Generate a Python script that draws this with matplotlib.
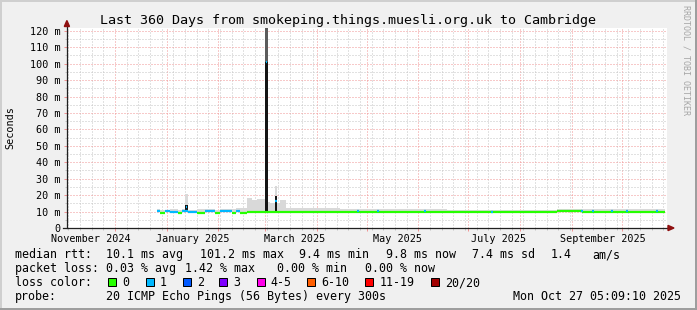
import numpy as np
import pandas as pd
import matplotlib
matplotlib.use('Agg')
import matplotlib.pyplot as plt
import matplotlib.dates as mdates
from matplotlib.patches import Rectangle, Polygon
from matplotlib.transforms import blended_transform_factory
from matplotlib.ticker import FuncFormatter, MultipleLocator, NullFormatter

# --------------------------------------------------------------
# Data
# --------------------------------------------------------------

# runs of (nearly) constant median rtt, in ms
run_start = ['2024-12-26 05:00', '2024-12-28 00:00', '2024-12-31 00:00',
             '2025-01-03 00:00', '2025-01-07 18:00', '2025-01-10 00:00',
             '2025-01-14 00:00', '2025-01-19 12:00', '2025-01-23 18:00',
             '2025-01-29 18:00', '2025-02-01 18:00', '2025-02-09 00:00',
             '2025-02-11 12:00', '2025-02-13 18:00', '2025-02-18 12:00',
             '2025-02-21 00:00', '2025-02-24 00:00', '2025-03-01 12:00',
             '2025-03-04 00:00', '2025-03-10 00:00', '2025-03-13 12:00',
             '2025-04-15 00:00', '2025-05-05 00:00', '2025-06-18 00:00',
             '2025-07-30 00:00', '2025-08-23 12:00', '2025-09-07 12:00']
run_end = '2025-10-27 05:00'
run_median = [10.1, 9.4, 10.1, 10.0, 9.4, 10.1, 10.0, 9.4, 10.1, 9.4, 10.1, 9.4,
              10.1, 9.4, 9.7, 9.7, 9.7, 9.7, 9.7, 9.7, 9.8, 9.6, 10.0, 9.7,
              9.5, 10.1, 9.9]
run_smoke = [11.5, 11.2, 11.0, 11.4, 11.2, 11.6, 11.0, 11.3, 11.5, 11.2, 11.6,
             11.4, 12.0, 12.4, 18.2, 17.0, 17.6, 16.0, 15.5, 16.8, 12.0, 11.4,
             11.6, 11.2, 11.0, 11.5, 11.6]
run_loss = [1, 0, 1, 1, 0, 1, 1, 0, 1, 0, 1, 0, 1, 0, 0, 0, 0, 0, 0, 0, 0, 0,
            0, 0, 0, 0, 0]

# short single-loss blips on the median line
blip_dates = ['2025-04-25 18:00', '2025-05-08 00:00', '2025-06-04 18:00',
              '2025-07-15 00:00', '2025-09-07 06:00', '2025-09-14 00:00',
              '2025-09-25 00:00', '2025-10-04 00:00', '2025-10-22 00:00']
blip_median = [10.2, 10.3, 10.2, 9.8, 10.3, 10.2, 10.3, 10.3, 10.6]
blip_loss = [1, 1, 1, 1, 1, 1, 1, 1, 1]

# spikes
spike_dates = ['2025-01-13 00:00', '2025-03-02 00:00', '2025-03-07 18:00']
spike_core = [13.8, 101.2, 19.4]
spike_dark = [13.8, 130.0, 19.4]
spike_light = [20.6, 130.0, 25.6]
spike_median = [12.5, 101.2, 16.4]
spike_loss = [1, 1, 1]

loss_labels = ['0', '1', '2', '3', '4-5', '6-10', '11-19', '20/20']
loss_colors = ['#26ff00', '#00b8ff', '#0059ff', '#7e00ff', '#ff00ea',
               '#ff5e00', '#ff0000', '#a10000']

yticks_ms = list(range(0, 121, 10))
xlabel_text = ['November 2024', 'January 2025', 'March 2025', 'May 2025',
               'July 2025', 'September 2025']
xlabel_dates = ['2024-11-16 12:00', '2025-01-16 12:00', '2025-03-19 00:00',
                '2025-05-19 12:00', '2025-07-19 10:00', '2025-09-19 18:00']
x_start, x_end = '2024-11-02 05:00', '2025-10-28 05:00'

title = 'Last 360 Days from smokeping.things.muesli.org.uk to Cambridge'
rtt_stats = ['10.1 ms avg', '101.2 ms max', '9.4 ms min', '9.8 ms now',
             '7.4 ms sd', '1.4', 'am/s']
loss_stats = ['0.03 % avg', '1.42 % max', '0.00 % min', '0.00 % now']
probe_text = '20 ICMP Echo Pings (56 Bytes) every 300s'
stamp_text = 'Mon Oct 27 05:09:10 2025'

# --------------------------------------------------------------
# Layout (pixels of the 697x310 image)
# --------------------------------------------------------------
W, H = 697, 310
AX_L, AX_R, AX_T, AX_B = 67, 667, 28, 228
YMAX = 121.7
MONO = 'DejaVu Sans Mono'
GRID = '#c4c4c4'
MGRID = '#f09494'
SMOKE = '#d9d9d9'
ARROW = '#8f1010'

rtt_x = [106, 199.7, 299, 385.7, 472, 550.7, 592]
loss_x = [106, 185, 277.3, 364.7]
sq_x = [108.3, 145.7, 182.7, 219.3, 256.7, 307.3, 365.3, 430.7]
row_y = [258.3, 272, 286, 300]


def fx(px):
    return px / W


def fy(py):
    return 1 - py / H


def to_num(dates):
    return mdates.date2num(pd.to_datetime(dates).to_pydatetime())


fig = plt.figure(figsize=(W / 100, H / 100), dpi=100)
fig.patch.set_facecolor('#f0f0f0')

# shaded frame
for x0, y0, w, h, c in [(0, 0, W, 2, '#cfcfcf'), (0, 0, 2, H, '#cfcfcf'),
                        (0, H - 2, W, 2, '#9e9e9e'), (W - 2, 0, 2, H, '#9e9e9e')]:
    fig.add_artist(Rectangle((fx(x0), fy(y0 + h)), w / W, h / H,
                             transform=fig.transFigure, color=c, lw=0))

ax = fig.add_axes([fx(AX_L), fy(AX_B), (AX_R - AX_L) / W, (AX_B - AX_T) / H])
ax.set_facecolor('white')
for s in ax.spines.values():
    s.set_visible(False)

# ---------------- data ----------------
starts = to_num(run_start)
edges = np.append(starts, to_num([run_end]))
med = np.array(run_median)
smk = np.array(run_smoke)
ax.fill_between(edges, np.append(med - 0.4, med[-1] - 0.4), np.append(smk, smk[-1]),
                step='post', color=SMOKE, lw=0, zorder=2)

sp = to_num(spike_dates)
base = 10.0
ax.bar(sp, np.array(spike_light) - base, bottom=base, width=1.4, color=SMOKE,
       lw=0, zorder=2)
ax.bar(sp, np.array(spike_dark) - base, bottom=base, width=1.4, color='#5c5c5c',
       lw=0, zorder=3)
ax.bar(sp, np.array(spike_core) - base, bottom=base, width=1.4, color='#151515',
       lw=0, zorder=3)

ax.hlines(med, edges[:-1], edges[1:], colors=[loss_colors[i] for i in run_loss],
          lw=1.6, zorder=4)
bd = to_num(blip_dates)
ax.hlines(blip_median, bd - 0.6, bd + 0.6, colors=[loss_colors[i] for i in blip_loss],
          lw=1.6, zorder=5)
ax.hlines(spike_median, sp - 0.5, sp + 0.5, colors=[loss_colors[i] for i in spike_loss],
          lw=1.6, zorder=5)

# ---------------- axes ----------------
ax.set_xlim(to_num([x_start])[0], to_num([x_end])[0])
ax.set_ylim(0, YMAX)
ax.xaxis.set_major_locator(mdates.MonthLocator())
ax.xaxis.set_minor_locator(mdates.WeekdayLocator(byweekday=mdates.SU))
ax.xaxis.set_major_formatter(NullFormatter())
ax.set_yticks(yticks_ms)
ax.yaxis.set_minor_locator(MultipleLocator(5))
ax.yaxis.set_major_formatter(FuncFormatter(lambda v, p: '0' if v == 0 else f'{int(v)} m'))
ax.set_axisbelow(True)
ax.grid(which='minor', color=GRID, linestyle=(0, (1, 2)), lw=0.72)
ax.grid(which='major', color=MGRID, linestyle=(0, (1, 2)), lw=0.72)
ax.tick_params(which='major', length=2.2, width=0.72, color=MGRID)
ax.tick_params(which='minor', length=1.5, width=0.72, color=GRID)
ax.tick_params(axis='y', which='major', labelsize=7.3, pad=2.6)
for lab in ax.get_yticklabels():
    lab.set_family(MONO)

tr = blended_transform_factory(ax.transData, ax.transAxes)
for d, t in zip(to_num(xlabel_dates), xlabel_text):
    ax.text(d, -(241.7 - AX_B) / (AX_B - AX_T), t, transform=tr, ha='center',
            va='baseline', fontsize=7.3, family=MONO)


def axx(px):
    return (px - AX_L) / (AX_R - AX_L)


def axy(py):
    return (AX_B - py) / (AX_B - AX_T)


ax.plot([axx(63), axx(669)], [0, 0], color='#202020', lw=0.9, transform=ax.transAxes,
        clip_on=False, zorder=6)
ax.plot([0, 0], [0, axy(24)], color='#202020', lw=0.9, transform=ax.transAxes,
        clip_on=False, zorder=6)
ax.add_patch(Polygon([(axx(64.3), axy(26.5)), (axx(69.5), axy(26.5)), (axx(66.9), axy(20.5))],
                     closed=True, transform=ax.transAxes, color=ARROW, clip_on=False, zorder=7))
ax.add_patch(Polygon([(axx(668), axy(225.4)), (axx(668), axy(230.6)), (axx(674), axy(228))],
                     closed=True, transform=ax.transAxes, color=ARROW, clip_on=False, zorder=7))

# ---------------- texts ----------------
fig.text(fx(348), fy(24), title, ha='center', va='baseline', fontsize=9.6, family=MONO)
fig.text(fx(10.5), fy(128), 'Seconds', rotation=90, ha='center', va='center',
         fontsize=7.3, family=MONO)
fig.text(fx(686), fy(5), 'RRDTOOL / TOBI OETIKER', rotation=-90, ha='center', va='top',
         fontsize=6.0, family=MONO, color='#a6a6a6')

LS = 8.4
fig.text(fx(15), fy(row_y[0]), 'median rtt:', fontsize=LS, family=MONO, va='baseline')
for x, t in zip(rtt_x, rtt_stats):
    fig.text(fx(x), fy(row_y[0]), t, fontsize=LS, family=MONO, va='baseline')
fig.text(fx(15), fy(row_y[1]), 'packet loss:', fontsize=LS, family=MONO, va='baseline')
for x, t in zip(loss_x, loss_stats):
    fig.text(fx(x), fy(row_y[1]), t, fontsize=LS, family=MONO, va='baseline')
fig.text(fx(15), fy(row_y[2]), 'loss color:', fontsize=LS, family=MONO, va='baseline')
for x, lab, c in zip(sq_x, loss_labels, loss_colors):
    fig.add_artist(Rectangle((fx(x), fy(row_y[2])), 8 / W, 8 / H, transform=fig.transFigure,
                             facecolor=c, edgecolor='black', lw=0.72))
    fig.text(fx(x + 14), fy(row_y[2]), lab, fontsize=LS, family=MONO, va='baseline')
fig.text(fx(15), fy(row_y[3]), 'probe:', fontsize=LS, family=MONO, va='baseline')
fig.text(fx(106), fy(row_y[3]), probe_text, fontsize=LS, family=MONO, va='baseline')
fig.text(fx(681), fy(row_y[3]), stamp_text, fontsize=LS, family=MONO, va='baseline',
         ha='right')

fig.savefig('out.png', dpi=100, facecolor=fig.get_facecolor())
